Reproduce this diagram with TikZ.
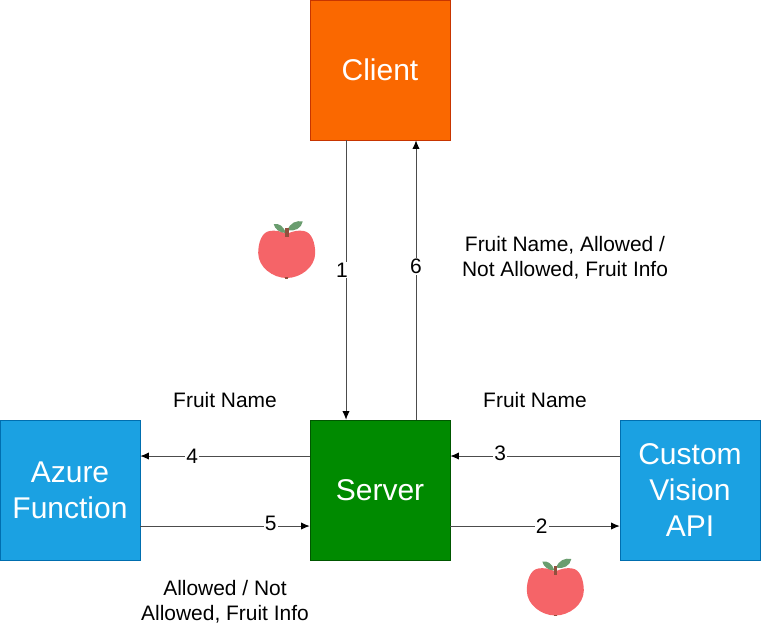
\documentclass[tikz,border=0pt]{standalone}
\usepackage{fontspec}
\usetikzlibrary{arrows.meta}
\setmainfont{Liberation Sans}
\definecolor{clientorange}{RGB}{250, 104, 0}
\definecolor{clientedge}{RGB}{199, 53, 0}
\definecolor{servergreen}{RGB}{0, 138, 0}
\definecolor{serveredge}{RGB}{0, 87, 0}
\definecolor{cloudblue}{RGB}{27, 161, 226}
\definecolor{cloudedge}{RGB}{0, 110, 175}
\definecolor{applered}{RGB}{245, 100, 104}
\definecolor{appleleaf}{RGB}{106, 157, 111}
\definecolor{applestem}{RGB}{145, 80, 62}
\tikzset{
    box/.style={draw, minimum size=105pt, inner sep=0pt, text=white, align=center,
        font=\fontsize{22.5}{27}\selectfont},
    flow/.style={-{Latex[length=6.5pt,width=5.5pt,black]}, line width=0.75pt, draw=black!70},
    num/.style={fill=white, inner sep=0.8pt, font=\fontsize{15.7}{18}\selectfont},
    note/.style={align=center, font=\fontsize{15.7}{18.6}\selectfont},
    apple/.pic={
        \fill[applered] (0,3) .. controls (6,0) and (12,-1) .. (17,0)
            .. controls (25,1) and (28.5,12) .. (28.5,22)
            .. controls (28.5,36) and (14,47) .. (0,47)
            .. controls (-14,47) and (-28.5,36) .. (-28.5,22)
            .. controls (-28.5,12) and (-25,1) .. (-17,0)
            .. controls (-12,-1) and (-6,0) .. (0,3) -- cycle;
        \fill[appleleaf] (-1,2) .. controls (-3,-5) and (-8,-8) .. (-13,-7)
            .. controls (-12,-2) and (-7,2) .. (-1,2) -- cycle;
        \fill[appleleaf] (1,-1) .. controls (3,-8) and (10,-11) .. (16,-9.5)
            .. controls (15,-3) and (8,1) .. (1,-1) -- cycle;
        \fill[applestem] (-1.8,-3) rectangle (1.8,6);
        \fill[applestem] (-1.5,46) rectangle (1.5,47.5);
    }
}

\begin{document}
\begin{tikzpicture}[x=0.75pt,y=-0.75pt]
    \useasboundingbox (0,0) rectangle (762,643);

    % Boxes
    \node[box, fill=clientorange, draw=clientedge] (client) at (380,70) {Client};
    \node[box, fill=servergreen, draw=serveredge] (server) at (380,490) {Server};
    \node[box, fill=cloudblue, draw=cloudedge] (azure) at (70,490) {Azure\\Function};
    \node[box, fill=cloudblue, draw=cloudedge] (vision) at (690,490) {Custom\\Vision\\API};

    % Client and server
    \draw[flow] ([xshift=-25.5pt]client.south) -- node[num, pos=.464, xshift=-3pt] (one) {1} ([xshift=-25.5pt]server.north);
    \draw[flow] ([xshift=27pt]server.north) -- node[num, pos=.55] (six) {6} ([xshift=27pt]client.south);

    % Server and vision API
    \draw[flow] ([yshift=25.5pt]vision.west) -- node[num, pos=.706, yshift=2pt] (three) {3} ([yshift=25.5pt]server.east);
    \draw[flow] ([yshift=-27pt]server.east) -- node[num, pos=.54] (two) {2} ([yshift=-27pt]vision.west);

    % Server and azure
    \draw[flow] ([yshift=25.5pt]server.west) -- node[num, pos=.694] (four) {4} ([yshift=25.5pt]azure.east);
    \draw[flow] ([yshift=-27pt]azure.east) -- node[num, pos=.77, yshift=2pt] (five) {5} ([yshift=-27pt]server.west);

    % Notes
    \node[note] (clientnote) at (565,258) {Fruit Name, Allowed /\\Not Allowed, Fruit Info};
    \node[note] (azurename) at (225,400) {Fruit Name};
    \node[note] (visionname) at (535,400) {Fruit Name};
    \node[note] (azurenote) at (225,601.5) {Allowed / Not\\Allowed, Fruit Info};

    % Apples
    \pic at (286.7,231) {apple};
    \pic at (555.3,568.5) {apple};
\end{tikzpicture}
\end{document}
